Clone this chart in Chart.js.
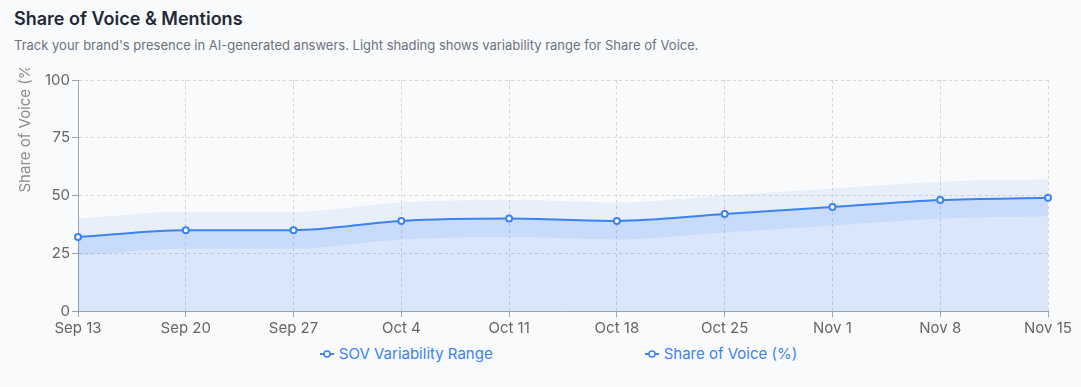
<!DOCTYPE html>
<html lang="en">
<head>
    <meta charset="UTF-8">
    <meta name="viewport" content="width=device-width, initial-scale=1.0">
    <title>Share of Voice & Mentions</title>
    <script src="https://cdn.jsdelivr.net/npm/chart.js"></script>
    <style>
        body {
            margin: 0;
            width: 1081px;
            height: 387px;
            overflow: hidden;
            position: relative;
            background: #f9fafb;
            font-family: Inter, "Noto Sans", Arial, sans-serif;
        }
        h2 {
            position: absolute;
            left: 14px;
            top: 7px;
            margin: 0;
            font-size: 18px;
            font-weight: 600;
            line-height: 24px;
            color: #1f2937;
        }
        .sub {
            position: absolute;
            left: 14px;
            top: 36px;
            margin: 0;
            font-size: 13px;
            line-height: 18px;
            color: #6b7280;
        }
        .chart-box {
            position: absolute;
            left: 0;
            top: 68px;
            width: 1081px;
            height: 272px;
        }
        #legend {
            position: absolute;
            left: 40px;
            width: 1037px;
            top: 343px;
            display: flex;
            justify-content: center;
            gap: 152px;
        }
        .legend-item {
            display: flex;
            align-items: center;
            gap: 5px;
            font-size: 15px;
            line-height: 22px;
        }
    </style>
</head>
<body>
    <h2>Share of Voice &amp; Mentions</h2>
    <p class="sub">Track your brand's presence in AI-generated answers. Light shading shows variability range for Share of Voice.</p>

    <div class="chart-box">
        <canvas id="sovChart"></canvas>
    </div>
    <div id="legend"></div>

    <script>
        const labels = ["Sep 13", "Sep 20", "Sep 27", "Oct 4", "Oct 11", "Oct 18", "Oct 25", "Nov 1", "Nov 8", "Nov 15"];
        const shareOfVoice = [32, 35, 35, 39, 40, 39, 42, 45, 48, 49];
        const rangeUpper = [40, 43, 43, 47, 48, 47, 50, 53, 56, 57];
        const rangeLower = [24, 27, 27, 31, 32, 31, 34, 37, 40, 41];
        const yTicks = [0, 25, 50, 75, 100];

        const blue = "#3b82f6";
        const tickFont = { family: "Inter, sans-serif", size: 15 };

        // y axis title sits off-centre (and runs past the top of the canvas) like the original
        const yTitle = {
            id: "yTitle",
            afterDraw(chart) {
                const { ctx, chartArea } = chart;
                ctx.save();
                ctx.translate(25, (chartArea.top + chartArea.bottom) / 2 - 3);
                ctx.rotate(-Math.PI / 2);
                ctx.font = "15px Inter, sans-serif";
                ctx.fillStyle = "#8b8b8b";
                ctx.textAlign = "left";
                ctx.textBaseline = "middle";
                ctx.fillText("Share of Voice (%)", 0, 0);
                ctx.restore();
            }
        };

        const ctx = document.getElementById("sovChart").getContext("2d");
        const chart = new Chart(ctx, {
            type: "line",
            data: {
                labels: labels,
                datasets: [{
                    label: "SOV Variability Range",
                    data: rangeUpper,
                    borderColor: blue,
                    borderWidth: 0,
                    pointRadius: 0,
                    backgroundColor: "rgba(59,130,246,0.09)",
                    fill: "origin",
                    order: 2
                }, {
                    label: "lower",
                    data: rangeLower,
                    borderColor: blue,
                    borderWidth: 0,
                    pointRadius: 0,
                    backgroundColor: "rgba(59,130,246,0.08)",
                    fill: "origin",
                    order: 1
                }, {
                    label: "Share of Voice (%)",
                    data: shareOfVoice,
                    borderColor: blue,
                    borderWidth: 2,
                    pointRadius: 3,
                    pointBorderWidth: 2,
                    pointBackgroundColor: "#ffffff",
                    pointBorderColor: blue,
                    backgroundColor: "rgba(59,130,246,0.18)",
                    fill: 1,
                    order: 0
                }]
            },
            options: {
                responsive: true,
                maintainAspectRatio: false,
                animation: false,
                layout: { padding: { top: 12, right: 33, left: 0, bottom: 0 } },
                elements: { line: { cubicInterpolationMode: "monotone" } },
                plugins: {
                    legend: { display: false },
                    tooltip: { enabled: false }
                },
                scales: {
                    x: {
                        grid: { color: "#d4d4d4", tickColor: "#9ca3af", tickLength: 6 },
                        border: { display: true, color: "#9ca3af", dash: [3, 3] },
                        ticks: { color: "#666", font: tickFont, padding: 2, maxRotation: 0, autoSkip: false },
                        afterFit: s => { s.height = 29; }
                    },
                    y: {
                        min: 0,
                        max: 100,
                        grid: { color: "#d4d4d4", tickColor: "#9ca3af", tickLength: 6 },
                        border: { display: true, color: "#9ca3af", dash: [3, 3] },
                        ticks: { color: "#666", font: tickFont, padding: 2 },
                        afterBuildTicks: s => { s.ticks = yTicks.map(v => ({ value: v })); },
                        afterFit: s => { s.width = 78; }
                    }
                }
            },
            plugins: [yTitle]
        });

        // html legend, lower band has no entry
        const legendEl = document.getElementById("legend");
        [0, 2].forEach(i => {
            const ds = chart.data.datasets[i];
            const item = document.createElement("div");
            item.className = "legend-item";
            item.style.color = ds.borderColor;
            item.innerHTML =
                '<svg width="14" height="14" viewBox="0 0 14 14">' +
                '<line x1="0" y1="7" x2="14" y2="7" stroke="' + ds.borderColor + '" stroke-width="2"/>' +
                '<circle cx="7" cy="7" r="3" fill="#fff" stroke="' + ds.borderColor + '" stroke-width="1.5"/></svg>' +
                "<span>" + ds.label + "</span>";
            legendEl.appendChild(item);
        });
    </script>
</body>
</html>
